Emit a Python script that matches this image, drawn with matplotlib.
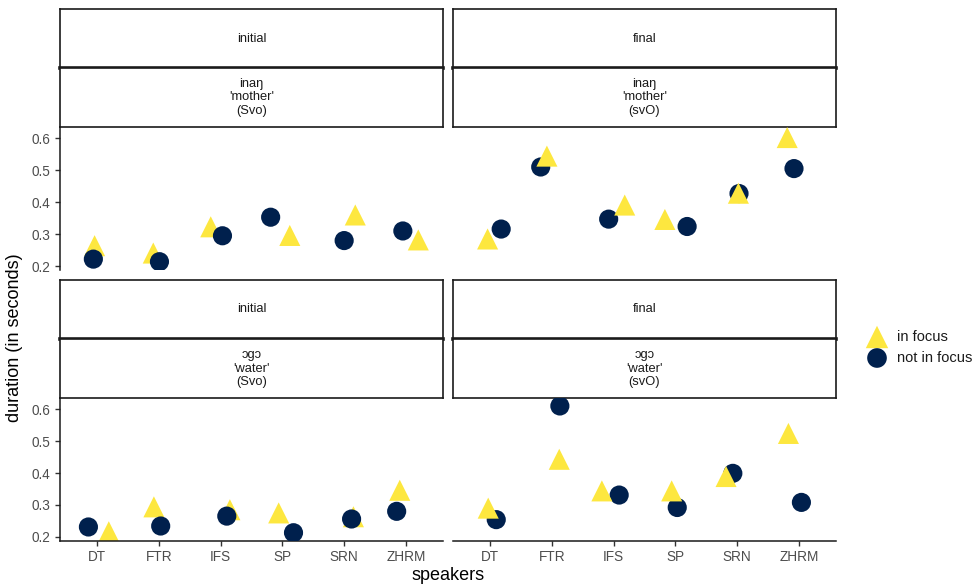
import numpy as np
import matplotlib
matplotlib.use("Agg")
import matplotlib.pyplot as plt

plt.rcParams['font.family'] = ['Liberation Sans', 'DejaVu Sans']

# Datos
speakers = ["DT", "FTR", "IFS", "SP", "SRN", "ZHRM"]

# inaŋ 'mother'
mother_initial_focus = [0.264, 0.241, 0.323, 0.296, 0.360, 0.282]
mother_initial_not = [0.222, 0.214, 0.295, 0.353, 0.280, 0.310]
mother_final_focus = [0.285, 0.544, 0.391, 0.346, 0.428, 0.602]
mother_final_not = [0.316, 0.510, 0.347, 0.324, 0.427, 0.505]

# ɔgɔ 'water'
water_initial_focus = [0.216, 0.294, 0.285, 0.275, 0.263, 0.346]
water_initial_not = [0.231, 0.234, 0.265, 0.213, 0.256, 0.280]
water_final_focus = [0.290, 0.443, 0.344, 0.344, 0.389, 0.524]
water_final_not = [0.254, 0.610, 0.331, 0.292, 0.399, 0.308]

# jitter horizontal (en unidades de categoría)
jit_mother_initial_focus = [-0.04, -0.09, -0.16, 0.12, 0.18, 0.20]
jit_mother_initial_not = [-0.06, 0.01, 0.03, -0.19, 0.00, -0.05]
jit_mother_final_focus = [-0.04, -0.08, 0.18, -0.17, 0.02, -0.19]
jit_mother_final_not = [0.18, -0.18, -0.08, 0.19, 0.03, -0.08]
jit_water_initial_focus = [0.19, -0.08, 0.15, -0.06, 0.15, -0.10]
jit_water_initial_not = [-0.14, 0.03, 0.10, 0.18, 0.12, -0.15]
jit_water_final_focus = [-0.03, 0.12, -0.19, -0.06, -0.18, -0.17]
jit_water_final_not = [0.10, 0.13, 0.09, 0.03, -0.07, 0.04]

panels = [
    # (fila, col, posición, palabra, focus, not, jit focus, jit not)
    (0, 0, "initial", "inaŋ\n'mother'\n(Svo)", mother_initial_focus, mother_initial_not,
     jit_mother_initial_focus, jit_mother_initial_not),
    (0, 1, "final", "inaŋ\n'mother'\n(svO)", mother_final_focus, mother_final_not,
     jit_mother_final_focus, jit_mother_final_not),
    (1, 0, "initial", "ɔgɔ\n'water'\n(Svo)", water_initial_focus, water_initial_not,
     jit_water_initial_focus, jit_water_initial_not),
    (1, 1, "final", "ɔgɔ\n'water'\n(svO)", water_final_focus, water_final_not,
     jit_water_final_focus, jit_water_final_not),
]

col_focus = "#FDE73F"
col_not = "#00204D"
grey_txt = "#4D4D4D"

W, H = 973, 586
fig = plt.figure(figsize=(W / 100, H / 100), dpi=100)

def fbox(x0, y0, x1, y1):
    # píxeles (desde arriba) -> fracción de figura
    return [x0 / W, 1 - y1 / H, (x1 - x0) / W, (y1 - y0) / H]

col_x = [(60, 443), (453, 836)]
row_y = [(9, 68, 127, 270), (280, 339, 398, 540.7)]

x = np.arange(len(speakers))

for r, c, pos, word, foc, nfoc, jf, jn in panels:
    x0, x1 = col_x[c]
    s0, s1, p0, p1 = row_y[r]

    # tiras (strips)
    for k, (ya, yb, txt) in enumerate([(s0, s1, pos), (s1, p0, word)]):
        sa = fig.add_axes(fbox(x0, ya, x1, yb))
        sa.set_xticks([])
        sa.set_yticks([])
        for sp in sa.spines.values():
            sp.set_color("#1A1A1A")
            sp.set_linewidth(1.2)
        if k == 0:
            sa.spines['bottom'].set_linewidth(2.6)
        sa.text(0.5, 0.5, txt, ha='center', va='center', fontsize=9.3,
                color="#1A1A1A", linespacing=1.2, transform=sa.transAxes)

    ax = fig.add_axes(fbox(x0, p0, x1, p1))
    # en "initial" los círculos quedan arriba, en "final" los triángulos
    zf, zn = (2, 3) if pos == "initial" else (3, 2)
    ax.scatter(x + np.array(jf), foc, marker='^', s=230, color=col_focus,
               edgecolors='none', zorder=zf)
    ax.scatter(x + np.array(jn), nfoc, marker='o', s=190, color=col_not,
               edgecolors='none', zorder=zn)

    ax.set_xlim(-0.6, 5.6)
    ax.set_ylim(0.188, 0.635)
    ax.spines['top'].set_visible(False)
    ax.spines['right'].set_visible(False)
    ax.set_facecolor('none')

    if c == 0:
        ax.set_yticks([0.2, 0.3, 0.4, 0.5, 0.6])
        ax.set_yticklabels(["0.2", "0.3", "0.4", "0.5", "0.6"])
        ax.spines['left'].set_color("#1A1A1A")
        ax.spines['left'].set_linewidth(1.1)
    else:
        ax.spines['left'].set_visible(False)
        ax.set_yticks([])

    if r == 1:
        ax.set_xticks(x)
        ax.set_xticklabels(speakers)
        ax.spines['bottom'].set_color("#1A1A1A")
        ax.spines['bottom'].set_linewidth(1.1)
    else:
        ax.spines['bottom'].set_visible(False)
        ax.set_xticks([])

    ax.tick_params(colors="#333333", labelcolor=grey_txt, labelsize=9.8,
                   length=3.5, width=1)

# títulos de ejes
fig.text(15 / W, 1 - 338 / H, "duration (in seconds)", rotation=90,
         ha='center', va='center', fontsize=13, color="black")
fig.text(448 / W, 1 - 575 / H, "speakers", ha='center', va='center',
         fontsize=13, color="black")

# leyenda
lax = fig.add_axes(fbox(860, 322, 973, 372))
lax.set_xlim(0, 113)
lax.set_ylim(50, 0)
lax.axis('off')
lax.scatter([17], [15], marker='^', s=260, color=col_focus, edgecolors='none')
lax.scatter([17], [36], marker='o', s=200, color=col_not, edgecolors='none')
lax.text(37, 15, "in focus", va='center', ha='left', fontsize=10.5, color="#1A1A1A")
lax.text(37, 36, "not in focus", va='center', ha='left', fontsize=10.5, color="#1A1A1A")

plt.savefig("out.png", dpi=100)
